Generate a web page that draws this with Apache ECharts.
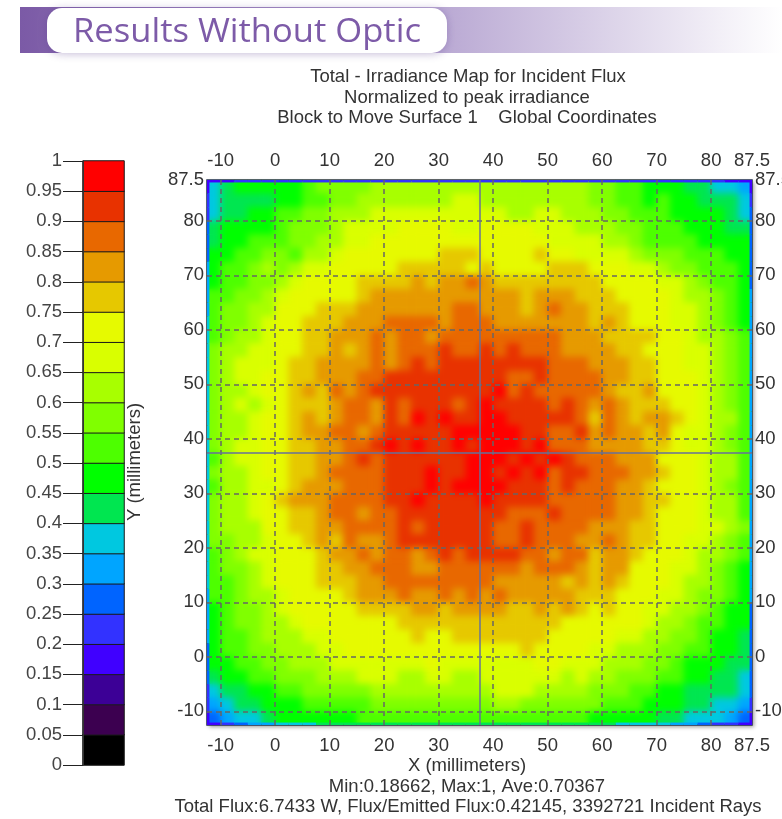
<!DOCTYPE html>
<html><head><meta charset="utf-8">
<script src="https://cdn.jsdelivr.net/npm/echarts@6/dist/echarts.min.js"></script>
<style>html,body{margin:0;padding:0;background:#fff}#c{width:782px;height:819px}
canvas[data-zr-dom-id="zr_-1"]{filter:blur(3.6px);clip-path:inset(180px 30px 94px 207px)}
</style>
</head><body><div id="c"></div>
<script>
// Band letters: a = 0-0.05 ... t = 0.95-1
const bandLetters = "abcdefghijklmnopqrst";
const bandColors = ["#000000","#3c0050","#3c0096","#4000ff","#3232ff","#0064ff","#00a5ff","#00c8e0","#00e650","#00ff00","#4dff00","#80ff00","#a8ff00","#d9ff00","#e6fa00","#e6c800","#e69a00","#e86800","#e83200","#ff0000"];
const irradianceRows = [
"hijjjjjkllllmmmmmmmm"+"mmmmmmmmllkkjjjiihhg",
"hiiiijjkkllmmmmmmmnn"+"mmmmmmmmllkkjkjjiiih",
"hiijjkkllmmmnnnnnnnn"+"nnmmnnmmmllkkkjjjjih",
"ijjjjklllmnnnnoooonn"+"oooonnnmmmllkkkjjjii",
"ijjkkkllmmnnoooooooo"+"ooooonnnnmmlkkkkjjjj",
"jjkkllkmmnoooooooppp"+"oooopoonnnnmlllkkkjj",
"jkklmlmnnooooopppppo"+"poooopppooonnmllkkkj",
"jkkllmnooooppppqpqqr"+"qppppppppoooonnmlkkj",
"kkllmnooooopqqqqqqqq"+"qqqpqqqpppoooonmmlkj",
"kllmmooopppqqqqqqqrr"+"qqqpqrqqpppooonnmlkj",
"kllmnoopppqqqrrrrqrr"+"rqqqqqqqpqpooonnmlkj",
"klmmnooppqqqrqrrqrrr"+"rrrrrrqqqppppoonmmlk",
"lmmnnooppqpqrqrrrsrr"+"srsrrrqqqqppooonnmlk",
"lmnnnoppqqqqrqrsrsss"+"sssssrrrqqqppoonnmlk",
"lmnnooppqqqrrsssssss"+"ssrrsrrrrqqppooonmlk",
"lmmnoopqprqrssssssss"+"strsrrrrrqppqooonmlk",
"lmnmnopppqrrqsrsssrs"+"tssssrsrqrqpppoonmlk",
"lmmnoopqpqrrqsrtstss"+"ttsssssrprqpqqponmmk",
"lmmnoopqqrrqrssssstt"+"tttssrrsqrqqpqonnmlk",
"lmnnooppqqrrststssts"+"tttstrrrqqqqpponnmlk",
"kmnnooppqqrsrsssssst"+"ttststsrrrqqqooonmmk",
"lmmnooppqrrrrssstsst"+"tststrssrrrqqpoonmmk",
"kmmnnopqqqrrrssststt"+"ttsssrsrrrqqpooonmlk",
"lmmnopqqqrrrrsstssss"+"tssssrrrrrqqppoonmmk",
"lmmnooppqrrqrrssssss"+"ssrrrsrrrrqqpooonmmk",
"lmmmooppqqrrrrsrssss"+"srrsrrrrqqqppooonnml",
"llmmnoopqprqqrssssss"+"srrsrrrqqrqppoonnmlk",
"klmnnooopqqrqrrqrsrs"+"sssrrqrrpqqpooonmmlk",
"kllmnoooppqqrrrqqrrr"+"rrrqrrrqpqqooonnmlkj",
"kklmnooopppqqrrrrrrr"+"rqqqqqpqpqpooonmmlkj",
"kklmmnoooopqqqrqqrqr"+"qrqqqqqpppooonnmllkj",
"jkllmnoooooppppqqpqq"+"qqppqpqpopoonnmmlkjj",
"jkllmmnooooooopppppp"+"ppppppoooooonmmlkkjj",
"jkklmmmnnoooooopoopp"+"pppppooooonnmmllkjji",
"jkkllmmmnnoooooooooo"+"ooopoooonnmmmllkkjji",
"jjkkllmmmnnnnnnnonnn"+"nnnnoonnnmmmllkjjjii",
"ijjkklllmmmnnnmmnnmm"+"nnnnnnmnmmlllkkjjiih",
"hiijjkklllllmmmmmmmm"+"mnnnmmmmlllkkjjiiiih",
"ghiijjjkkkkkllllllll"+"lmmllllllkkkjjjiihhg",
"fghhijjjjjjkkkkkkkkk"+"kkkkkkkkjjjjjiihhhgf"
];
const edgeTop    = "ddeeeeeeeeeeeeeeeeeeeeeeeeeeeeeeeeeeeedd";
const edgeBottom = "defgghhhiiiiiiiiiiiiiiiiiiiiiihhhhggfeed";
const edgeLeft   = "deefffgggghhhhhhhhhhhhhhhhhhhhggggfffeed";
const edgeRight  = "deffffffgggggggggggggggggggggggfffffffed";
const axisTicks = [-10,0,10,20,30,40,50,60,70,80,87.5];
const gridTicks = [-10,0,10,20,30,40,50,60,70,80];
const crosshair = [37.5];
const extent = [-12.5,87.5];
const edgeWidth = 0.45;
const titles = ["Total - Irradiance Map for Incident Flux","Normalized to peak irradiance","Block to Move Surface 1    Global Coordinates"];
const footers = ["X (millimeters)","Min:0.18662, Max:1, Ave:0.70367","Total Flux:6.7433 W, Flux/Emitted Flux:0.42145, 3392721 Incident Rays"];

const bandValue = ch => (bandLetters.indexOf(ch)+0.5)*0.05;
const N = irradianceRows.length;
const cats = irradianceRows.map((_,i)=>i);
const mapData = [];
irradianceRows.forEach((row,r)=>{for(let c=0;c<N;c++)mapData.push([c,r,bandValue(row[c])]);});
const barCats = bandLetters.split("").map((_,i)=>i);
const barData = bandLetters.split("").map((ch,i)=>[0,i,bandValue(ch)]);
const cell = (extent[1]-extent[0])/N;
const edges = [];
for(let i=0;i<N;i++){
  const a = extent[0]+i*cell, b = a+cell, top = extent[1]-i*cell, low = top-cell;
  edges.push([a,b,extent[1]-edgeWidth,extent[1],bandValue(edgeTop[i])]);
  edges.push([a,b,extent[0],extent[0]+edgeWidth,bandValue(edgeBottom[i])]);
  edges.push([extent[0],extent[0]+edgeWidth,low,top,bandValue(edgeLeft[i])]);
  edges.push([extent[1]-edgeWidth,extent[1],low,top,bandValue(edgeRight[i])]);
}
const pieces = bandColors.map((color,i)=>({gte:i*0.05,lt:(i+1)*0.05+(i==19?0.01:0),color}));
const FONT = "Liberation Sans";
const FS = 18.5;
const txt = "#333";
const rect = {left:207,top:180,width:545,height:545,outerBoundsMode:'none'};
const barRect = {left:83,top:161,width:41,height:604,outerBoundsMode:'none'};
const valAxis = (grid,pos,margin,extra)=>Object.assign({
  type:'value',gridIndex:grid,position:pos,min:extent[0],max:extent[1],z:5,
  axisLine:{show:false},
  axisTick:{show:false,customValues:gridTicks},
  axisLabel:{customValues:axisTicks,color:txt,fontFamily:FONT,fontSize:FS,hideOverlap:false,margin},
  splitLine:{show:false}
},extra||{});
const dashed = {show:true,lineStyle:{color:"#666",type:[5,4],width:1.5}};
const hiddenCat = (grid,data,inv)=>({type:'category',gridIndex:grid,data,show:false,inverse:!!inv,axisTick:{show:false},axisLine:{show:false},splitLine:{show:false}});
const pxText=(text,x,y,extra)=>({type:'text',x,y,z:20,style:Object.assign({text,fill:txt,font:FS+'px "'+FONT+'"',align:'center',verticalAlign:'middle'},extra||{})});

const chart = echarts.init(document.getElementById('c'),null,{renderer:'canvas'});
chart.setOption({
  animation:false,
  backgroundColor:'#fff',
  grid:[
    Object.assign({show:true,zlevel:-3,backgroundColor:'#fff',borderWidth:0,shadowColor:'rgba(0,0,0,0.4)',shadowBlur:4,shadowOffsetX:2,shadowOffsetY:2},rect),
    Object.assign({show:true,backgroundColor:'transparent',borderColor:'#33334d',borderWidth:1.5},rect),
    Object.assign({},barRect),
    Object.assign({},barRect)
  ],
  xAxis:[
    hiddenCat(0,cats),
    valAxis(1,'bottom',11,{splitLine:dashed}),
    valAxis(1,'top',10),
    hiddenCat(2,['c']),
    {type:'category',gridIndex:3,data:['c'],show:false}
  ],
  yAxis:[
    hiddenCat(0,cats,true),
    valAxis(1,'left',3,{splitLine:dashed}),
    valAxis(1,'right',3),
    hiddenCat(2,barCats),
    {type:'value',gridIndex:3,position:'left',min:0,max:1,interval:0.05,z:6,
     axisLine:{show:true,lineStyle:{color:'#333'}},
     axisTick:{show:true,length:20,lineStyle:{color:'#222'}},
     axisLabel:{color:'#444',fontFamily:FONT,fontSize:FS,margin:21,showMinLabel:true,showMaxLabel:true},
     splitLine:{show:false}}
  ],
  visualMap:{type:'piecewise',show:false,dimension:2,seriesIndex:[0,1,2],pieces},
  series:[
    {type:'heatmap',zlevel:-2,xAxisIndex:0,yAxisIndex:0,data:mapData,z:1,progressive:0,itemStyle:{borderWidth:0}},
    {type:'heatmap',zlevel:-1,xAxisIndex:0,yAxisIndex:0,data:mapData,z:1,progressive:0,itemStyle:{borderWidth:0}},
    {type:'heatmap',xAxisIndex:3,yAxisIndex:3,data:barData,z:1,progressive:0,itemStyle:{borderColor:'#1a1a1a',borderWidth:1}},
    {type:'custom',xAxisIndex:1,yAxisIndex:1,data:edges,z:3,clip:false,silent:true,
     encode:{x:[0,1],y:[2,3]},
     renderItem:(p,api)=>{
       const a=api.coord([api.value(0),api.value(3)]), b=api.coord([api.value(1),api.value(2)]);
       const idx=Math.floor(api.value(4)/0.05);
       return {type:'rect',shape:{x:a[0],y:a[1],width:b[0]-a[0],height:b[1]-a[1]},style:{fill:bandColors[idx]}};
     },
     markLine:{silent:true,symbol:'none',label:{show:false},animation:false,z:6,
       lineStyle:{color:'#66709a',type:'solid',width:1.5},
       data:[{xAxis:crosshair[0]},{yAxis:crosshair[0]}]}
    }
  ],
  graphic:[
    {type:'rect',z:10,shape:{x:20,y:7,width:762,height:46},style:{fill:new echarts.graphic.LinearGradient(0,0,1,0,[{offset:0,color:'#7b5aa6'},{offset:0.55,color:'#b9a8d3'},{offset:1,color:'#ffffff'}])}},
    {type:'rect',z:11,shape:{x:47,y:8,width:400,height:45,r:15},style:{fill:'#fff',shadowColor:'rgba(90,60,140,0.35)',shadowBlur:8,shadowOffsetY:1}},
    {type:'text',x:73,y:33,z:12,scaleX:1.08,style:{text:'Results Without Optic',fill:'#7d5ba8',font:'32px "Open Sans"',verticalAlign:'middle'}},
    pxText(titles[0],468,77),pxText(titles[1],467,98),pxText(titles[2],467,118),
    pxText(footers[0],467,766),pxText(footers[1],467,787),pxText(footers[2],468,807),
    Object.assign(pxText('Y (millimeters)',135,462),{rotation:Math.PI/2})
  ]
});
</script></body></html>
